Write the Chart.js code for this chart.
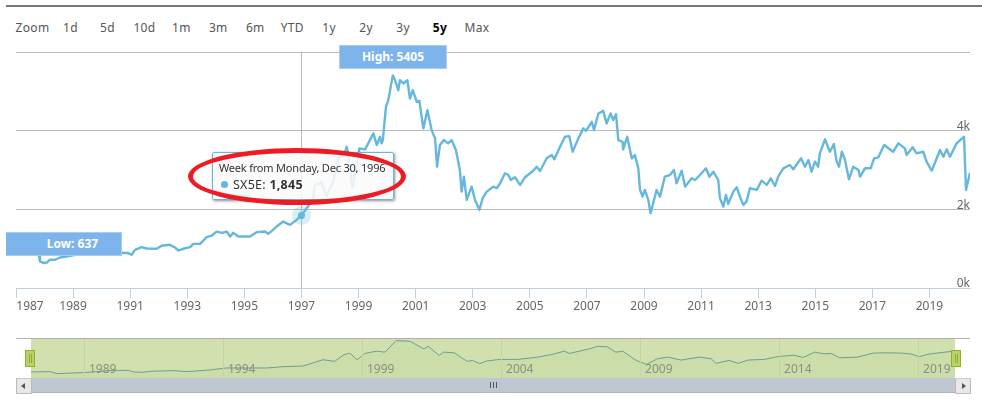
<!DOCTYPE html>
<html>
<head>
<meta charset="utf-8">
<script src="https://cdn.jsdelivr.net/npm/chart.js@4/dist/chart.umd.js"></script>
<style>
    html, body { margin: 0; padding: 0; background: #fff; }
    body { width: 982px; height: 406px; position: relative; overflow: hidden; font-family: "Noto Sans", sans-serif; }
    canvas { position: absolute; left: 0; }
    #topBar { position: absolute; left: 6px; right: 0; top: 5px; height: 2px; background: #777; }
    #range { position: absolute; left: 16px; top: 19px; height: 18px; line-height: 18px; font-size: 12px; color: #555; letter-spacing: .3px; }
    #range span { position: absolute; top: 0; width: 37px; text-align: center; }
    .flag { position: absolute; background: #7cb4eb; border: 1px solid #a9cdf2; color: #fff; font-weight: 700; font-size: 12px; text-align: center; box-sizing: border-box; }
    #high { left: 339px; top: 45px; width: 108px; height: 24px; line-height: 22px; }
    #low { left: 6px; top: 232px; width: 116px; height: 24px; line-height: 22px; border-left: 0; padding-left: 18px; }
    #tip { position: absolute; left: 212px; top: 152px; width: 182px; height: 48px; box-sizing: border-box; background: rgba(250,250,250,.86); border: 1px solid #65b8dc; border-radius: 2px; box-shadow: 1px 1px 3px rgba(0,0,0,.45); color: #333; font-size: 11px; }
    #tip .l1 { position: absolute; left: 6px; top: 7px; white-space: nowrap; letter-spacing: -.2px; }
    #tip .l2 { position: absolute; left: 20px; top: 23px; white-space: nowrap; font-size: 12.5px; letter-spacing: .25px; }
    #tip .dot { position: absolute; left: 8px; top: 28px; width: 7px; height: 7px; border-radius: 50%; background: #65b8dc; }
    #ring { position: absolute; left: 188px; top: 148px; width: 218px; height: 57px; box-sizing: border-box; border: 5px solid #ed1c24; border-radius: 50%; }
    #navBg { position: absolute; left: 31px; top: 338px; width: 924px; height: 40px; background: #d1e0ae; }
    #navTop { position: absolute; left: 16px; top: 338px; width: 954px; height: 1px; background: #b2b1b6; }
    #track { position: absolute; left: 31px; top: 378px; width: 924px; height: 14px; background: #bfc8d1; border-bottom: 1px solid #b2b1b6; box-sizing: content-box; }
    .btn { position: absolute; top: 378px; width: 14px; height: 14px; background: #e8e8e8; border: 1px solid #bbb; border-top-color: #ccc; }
    #btnL { left: 16px; } #btnR { left: 955px; }
    .btn i { position: absolute; top: 4px; width: 0; height: 0; border-top: 3px solid transparent; border-bottom: 3px solid transparent; }
    #btnL i { left: 4px; border-right: 4px solid #555; }
    #btnR i { left: 6px; border-left: 4px solid #555; }
    #grip { position: absolute; left: 490px; top: 382px; width: 1px; height: 6px; background: #555; box-shadow: 3px 0 0 #555, 6px 0 0 #555; }
    .handle { position: absolute; top: 350px; width: 8px; height: 15px; background: #b9d06f; border: 1px solid #8fb31c; }
    .handle::after { content: ""; position: absolute; left: 3px; top: 3px; width: 1px; height: 9px; background: #8fb31c; box-shadow: 2px 0 0 #8fb31c; }
    #handleL { left: 25px; } #handleR { left: 951px; }
</style>
</head>
<body>
<div id="topBar"></div>
<div id="range"></div>
<div id="navBg"></div>
<canvas id="mainChart" width="982" height="320" style="top:0;width:982px;height:320px"></canvas>
<canvas id="navChart" width="982" height="50" style="top:330px;width:982px;height:50px"></canvas>
<div id="navTop"></div>
<div id="track"></div>
<div class="btn" id="btnL"><i></i></div>
<div class="btn" id="btnR"><i></i></div>
<div id="grip"></div>
<div class="handle" id="handleL"></div>
<div class="handle" id="handleR"></div>
<div class="flag" id="high">High: 5405</div>
<div class="flag" id="low">Low: 637</div>
<div id="tip">
    <div class="l1">Week from Monday, Dec 30, 1996</div>
    <div class="dot"></div>
    <div class="l2">SX5E: <b>1,845</b></div>
</div>
<div id="ring"></div>
<script>
// valores
const rangeLabels = ['1d', '5d', '10d', '1m', '3m', '6m', 'YTD', '1y', '2y', '3y', '5y', 'Max'];
const activeRange = '5y';
const tickYears = [1987, 1989, 1991, 1993, 1995, 1997, 1999, 2001, 2003, 2005, 2007, 2009, 2011, 2013, 2015, 2017, 2019];
const navYears = [1989, 1994, 1999, 2004, 2009, 2014, 2019];
const hoverYear = [1997.0];
const hoverValue = [1845];

const years = [
    1987.00, 1987.40, 1987.70, 1987.81, 1987.84, 1987.96, 1988.08, 1988.19, 1988.37, 1988.54, 1988.72, 1989.00, 1989.40, 1989.80, 1990.20, 1990.50,
    1990.68, 1990.76, 1990.93, 1991.05, 1991.17, 1991.40, 1991.58, 1991.93, 1992.10, 1992.39, 1992.57, 1992.69, 1992.86, 1993.10, 1993.21, 1993.45,
    1993.68, 1993.86, 1994.03, 1994.21, 1994.38, 1994.50, 1994.61, 1994.79, 1995.20, 1995.43, 1995.72, 1995.84, 1996.13, 1996.36, 1996.60, 1996.83,
    1997.00, 1997.24, 1997.41, 1997.47, 1997.71, 1997.88, 1998.11, 1998.29, 1998.52, 1998.58, 1998.64, 1998.79, 1998.99, 1999.03, 1999.23, 1999.34,
    1999.52, 1999.64, 1999.75, 1999.81, 1999.85, 1999.96, 2000.04, 2000.20, 2000.28, 2000.39, 2000.45, 2000.57, 2000.71, 2000.80, 2000.90, 2001.04,
    2001.13, 2001.27, 2001.41, 2001.56, 2001.68, 2001.75, 2001.85, 2001.99, 2002.14, 2002.26, 2002.41, 2002.55, 2002.61, 2002.69, 2002.79, 2002.96,
    2003.08, 2003.23, 2003.35, 2003.49, 2003.72, 2003.84, 2003.96, 2004.13, 2004.25, 2004.33, 2004.48, 2004.66, 2004.83, 2005.12, 2005.24, 2005.36,
    2005.59, 2005.77, 2005.86, 2006.06, 2006.23, 2006.38, 2006.50, 2006.70, 2006.87, 2006.97, 2007.17, 2007.25, 2007.40, 2007.57, 2007.69, 2007.83,
    2007.92, 2008.02, 2008.10, 2008.25, 2008.27, 2008.41, 2008.57, 2008.68, 2008.80, 2008.86, 2008.95, 2009.03, 2009.15, 2009.23, 2009.44, 2009.56,
    2009.73, 2009.91, 2010.05, 2010.14, 2010.32, 2010.44, 2010.67, 2010.79, 2010.96, 2011.17, 2011.29, 2011.43, 2011.60, 2011.66, 2011.78, 2011.87,
    2011.95, 2012.13, 2012.25, 2012.36, 2012.48, 2012.59, 2012.71, 2012.95, 2013.12, 2013.30, 2013.44, 2013.59, 2013.70, 2013.88, 2014.11, 2014.23,
    2014.50, 2014.64, 2014.76, 2014.87, 2014.99, 2015.10, 2015.16, 2015.34, 2015.51, 2015.65, 2015.75, 2015.83, 2015.93, 2016.04, 2016.18, 2016.33,
    2016.51, 2016.57, 2016.74, 2016.94, 2017.06, 2017.21, 2017.41, 2017.73, 2017.91, 2018.14, 2018.20, 2018.41, 2018.55, 2018.78, 2018.90, 2019.08,
    2019.37, 2019.49, 2019.60, 2019.72, 2019.95, 2020.21, 2020.28, 2020.42
];
const values = [
    880, 960, 940, 801, 675, 637, 649, 718, 718, 776, 794, 830, 900, 980, 1020, 980,
    913, 888, 888, 844, 971, 1040, 1004, 997, 1073, 1098, 1030, 954, 997, 1040, 1123, 1123,
    1293, 1334, 1435, 1402, 1435, 1309, 1402, 1309, 1309, 1420, 1435, 1377, 1562, 1689, 1605, 1732,
    1845, 2087, 2282, 2620, 2670, 2341, 2703, 3297, 3431, 3591, 3431, 2544, 3337, 3550, 3525, 3677,
    3931, 3634, 3845, 3677, 3761, 4605, 4775, 5405, 5282, 5028, 5282, 5199, 5282, 4818, 5028, 4732,
    4757, 4058, 4522, 4014, 3804, 3084, 3634, 3761, 3677, 3761, 3507, 3000, 2450, 2830, 2239, 2577,
    2239, 1986, 2282, 2450, 2577, 2536, 2663, 2916, 2873, 2746, 2815, 2620, 2815, 2982, 3084, 2975,
    3297, 3380, 3271, 3591, 3845, 3862, 3464, 3804, 4058, 3997, 4225, 4014, 4438, 4504, 4184, 4438,
    4268, 4420, 3761, 3718, 3525, 3845, 3297, 3380, 3043, 2493, 2323, 2493, 2239, 1902, 2493, 2323,
    2830, 2873, 3000, 2663, 2982, 2577, 2790, 2746, 2873, 3043, 2830, 2957, 2746, 2282, 2069, 2366,
    2138, 2450, 2561, 2323, 2112, 2196, 2536, 2493, 2729, 2620, 2790, 2594, 2830, 3043, 3127, 3018,
    3297, 3084, 3254, 2957, 3211, 3084, 3424, 3779, 3464, 3659, 3211, 3084, 3464, 3254, 2764, 3084,
    3000, 2830, 3043, 3043, 3297, 3322, 3634, 3464, 3677, 3550, 3380, 3576, 3424, 3464, 3211, 2982,
    3507, 3337, 3525, 3337, 3677, 3845, 2493, 2932
];

// navegador: serie suavizada
const navX = [
    1987.07, 1987.76, 1988.00, 1988.96, 1989.90, 1990.57, 1990.75, 1991.10, 1991.35, 1992.18, 1992.68, 1993.50, 1994.10, 1995.55, 1996.15, 1996.85,
    1997.20, 1997.57, 1997.99, 1998.30, 1998.53, 1998.80, 1999.08, 1999.50, 1999.80, 2000.20, 2000.70, 2001.20, 2001.35, 2001.75, 2001.90, 2002.30,
    2002.60, 2002.77, 2002.95, 2003.20, 2003.45, 2003.92, 2004.60, 2005.30, 2005.80, 2006.25, 2006.43, 2007.20, 2007.45, 2007.80, 2008.10, 2008.35,
    2008.83, 2009.20, 2009.60, 2009.97, 2010.45, 2011.10, 2011.53, 2011.70, 2012.18, 2012.50, 2012.85, 2013.45, 2013.90, 2014.50, 2014.85, 2015.25,
    2015.60, 2015.85, 2016.15, 2016.80, 2017.35, 2017.80, 2018.40, 2018.75, 2019.00, 2019.35, 2019.83, 2020.15, 2020.30
];
const navY = [
    875, 923, 637, 780, 1066, 1114, 875, 828, 971, 1066, 923, 1161, 1448, 1448, 1638, 1734,
    2163, 2640, 2401, 3307, 3593, 2640, 3545, 3879, 3736, 5405, 5310, 4213, 4594, 3260, 3736, 3641,
    2783, 2401, 2544, 2067, 2449, 2687, 2687, 3021, 3402, 3879, 3545, 4261, 4594, 4499, 3736, 3879,
    2544, 1972, 2783, 3021, 2592, 3021, 2783, 2115, 2544, 2115, 2592, 2687, 3069, 3307, 2973, 3736,
    3498, 3545, 2926, 3021, 3593, 3641, 3593, 3450, 3069, 3450, 3688, 3832, 3800
];

// botones de rango
const range = document.getElementById('range');
const zoomLabel = document.createElement('span');
zoomLabel.innerText = 'Zoom';
zoomLabel.style.left = '-2px';
range.appendChild(zoomLabel);
rangeLabels.forEach((label, i) => {
    const s = document.createElement('span');
    s.innerText = label;
    s.style.left = (36 + i * 36.95) + 'px';
    if (label === activeRange) { s.style.fontWeight = '700'; s.style.color = '#000'; }
    range.appendChild(s);
});

const lineColor = '#65b8dc';
const fontFamily = '"Noto Sans", sans-serif';

// linea vertical del cursor y desplazamiento de la primera etiqueta
const mainExtras = {
    id: 'mainExtras',
    beforeDatasetsDraw(chart) {
        const { ctx, chartArea, scales } = chart;
        const x = Math.round(scales.x.getPixelForValue(hoverYear[0])) + 0.5;
        ctx.save();
        ctx.strokeStyle = '#bbbbbb';
        ctx.lineWidth = 1;
        ctx.beginPath();
        ctx.moveTo(x, chartArea.top);
        ctx.lineTo(x, chartArea.bottom);
        ctx.stroke();
        ctx.restore();
    },
    beforeDraw(chart) {
        const first = chart.scales.x.getLabelItems()[0];
        if (!first.shifted) {
            first.options.translation[0] += 14;
            first.shifted = true;
        }
    }
};

new Chart(document.getElementById('mainChart').getContext('2d'), {
    type: 'line',
    data: {
        datasets: [
            {
                data: hoverYear.map((y, i) => ({ x: y, y: hoverValue[i] })),
                pointRadius: 3.5,
                pointBackgroundColor: lineColor,
                pointBorderWidth: 0,
                showLine: false,
                order: 1
            },
            {
                data: hoverYear.map((y, i) => ({ x: y, y: hoverValue[i] })),
                pointRadius: 9.5,
                pointBackgroundColor: 'rgba(101, 184, 220, 0.25)',
                pointBorderWidth: 0,
                showLine: false,
                order: 2
            },
            {
                data: years.map((y, i) => ({ x: y, y: values[i] })),
                borderColor: lineColor,
                borderWidth: 2.4,
                borderJoinStyle: 'round',
                pointRadius: 0,
                tension: 0,
                order: 3
            }
        ]
    },
    options: {
        responsive: false,
        animation: false,
        events: [],
        layout: { padding: { left: 16, right: 12, top: 52, bottom: 0 } },
        plugins: { legend: { display: false }, tooltip: { enabled: false } },
        scales: {
            x: {
                type: 'linear',
                min: 1987,
                max: 2020.42,
                afterBuildTicks: axis => { axis.ticks = tickYears.map(v => ({ value: v })); },
                afterFit: axis => { axis.height = 32; },
                grid: { drawOnChartArea: false, tickLength: 10, tickColor: '#c0d0e0' },
                border: { color: '#c0d0e0' },
                ticks: { autoSkip: false, maxRotation: 0, padding: 1, color: '#666', font: { family: fontFamily, size: 12 }, callback: v => String(v) }
            },
            y: {
                position: 'right',
                min: 0,
                max: 6000,
                afterFit: axis => { axis.width = 0; },
                grid: { color: '#bbbbbb', drawTicks: false },
                border: { display: false },
                ticks: {
                    stepSize: 2000,
                    mirror: true,
                    padding: 0,
                    labelOffset: -4,
                    color: '#666',
                    font: { family: fontFamily, size: 12 },
                    callback: v => (v === 6000 ? '' : (v / 1000) + 'k')
                }
            }
        }
    },
    plugins: [mainExtras]
});

new Chart(document.getElementById('navChart').getContext('2d'), {
    type: 'line',
    data: {
        datasets: [{
            data: navX.map((y, i) => ({ x: y, y: navY[i] })),
            borderColor: '#6f9d90',
            borderWidth: 1,
            backgroundColor: '#cbdda9',
            fill: 'origin',
            pointRadius: 0,
            tension: 0
        }]
    },
    options: {
        responsive: false,
        animation: false,
        events: [],
        layout: { padding: { left: 31, right: 27, top: 8, bottom: 2 } },
        plugins: { legend: { display: false }, tooltip: { enabled: false } },
        scales: {
            x: {
                type: 'linear',
                min: 1987.07,
                max: 2020.3,
                afterBuildTicks: axis => { axis.ticks = navYears.map(v => ({ value: v })); },
                afterFit: axis => { axis.height = 0; },
                grid: { color: '#c3d6a0', drawTicks: false, z: 1 },
                border: { display: false },
                // mirror evita el recorte de las etiquetas dentro del navegador
                ticks: { z: 1, mirror: true, autoSkip: false, maxRotation: 0, padding: 1, labelOffset: 18, color: '#8b8f82', font: { family: fontFamily, size: 12 }, callback: v => String(v) }
            },
            y: { display: false, min: 0, max: 5780 }
        }
    }
});
</script>
</body>
</html>
